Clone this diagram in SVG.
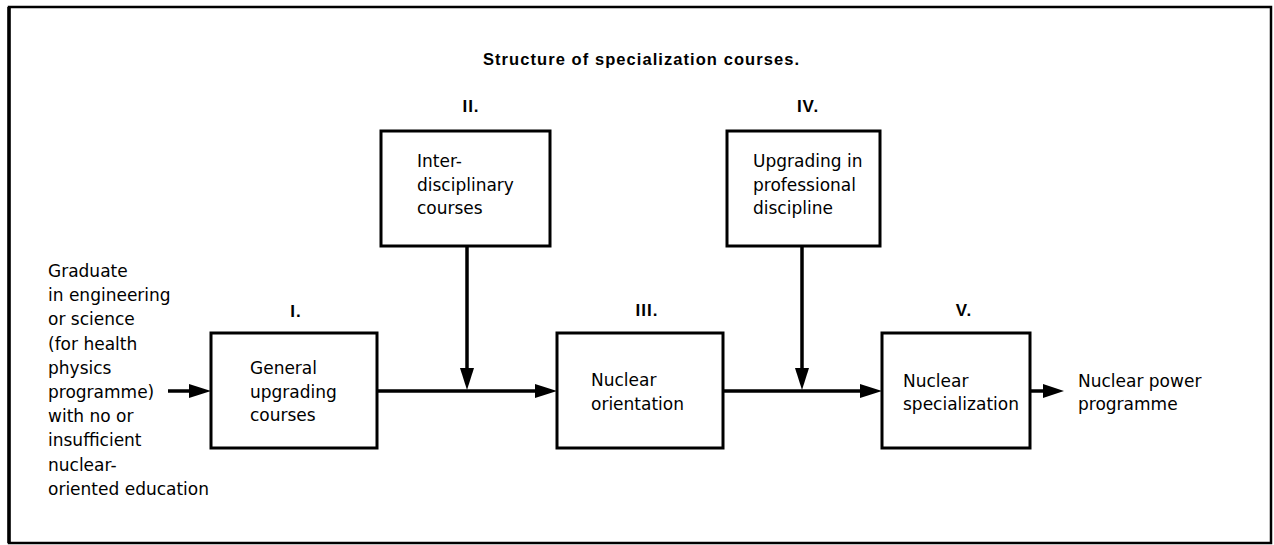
<svg xmlns="http://www.w3.org/2000/svg" width="1274" height="545" viewBox="0 0 1274 545">
<style>
.frame{fill:none;stroke:#000;stroke-width:2.5}
.box{fill:#fff;stroke:#000;stroke-width:3}
.t{font-family:"DejaVu Sans",Verdana,sans-serif;font-size:17px;fill:#000}
.title{font-family:"Liberation Sans",Arial,sans-serif;font-weight:bold;font-size:16.5px;fill:#000}
.num{font-family:"Liberation Sans",Arial,sans-serif;font-weight:bold;font-size:17px;fill:#000;text-anchor:middle;letter-spacing:1px}
.ln{fill:none;stroke:#000;stroke-width:3.5}
.ah{fill:#000;stroke:none}
</style>
<rect class="frame" x="9" y="7" width="1262" height="536"/>
<line x1="9" y1="7" x2="9" y2="543" stroke="#000" stroke-width="3.5"/>
<text class="title" x="641" y="65" text-anchor="middle" textLength="316">Structure of specialization courses.</text>

<g id="input-label">
<text class="t" x="48" y="277">Graduate</text>
<text class="t" x="48" y="301.2">in engineering</text>
<text class="t" x="48" y="325.4">or science</text>
<text class="t" x="48" y="349.6">(for health</text>
<text class="t" x="48" y="373.8">physics</text>
<text class="t" x="48" y="398">programme)</text>
<text class="t" x="48" y="422.2">with no or</text>
<text class="t" x="48" y="446.4">insufficient</text>
<text class="t" x="48" y="470.6">nuclear-</text>
<text class="t" x="48" y="494.8">oriented education</text>
</g>

<g id="node-I">
<text class="num" x="296" y="317">I.</text>
<rect class="box" x="211" y="333" width="166" height="115"/>
<text class="t" x="250" y="374">General</text>
<text class="t" x="250" y="398">upgrading</text>
<text class="t" x="250" y="421">courses</text>
</g>

<g id="node-II">
<text class="num" x="471" y="112">II.</text>
<rect class="box" x="381" y="131" width="169" height="115"/>
<text class="t" x="417" y="167">Inter-</text>
<text class="t" x="417" y="191">disciplinary</text>
<text class="t" x="417" y="214">courses</text>
</g>

<g id="node-III">
<text class="num" x="647" y="316">III.</text>
<rect class="box" x="557" y="333" width="166" height="115"/>
<text class="t" x="591" y="386">Nuclear</text>
<text class="t" x="591" y="410">orientation</text>
</g>

<g id="node-IV">
<text class="num" x="808" y="112">IV.</text>
<rect class="box" x="727" y="131" width="153" height="115"/>
<text class="t" x="753" y="167">Upgrading in</text>
<text class="t" x="753" y="191">professional</text>
<text class="t" x="753" y="214">discipline</text>
</g>

<g id="node-V">
<text class="num" x="964" y="316">V.</text>
<rect class="box" x="882" y="333" width="148" height="115"/>
<text class="t" x="903" y="387">Nuclear</text>
<text class="t" x="903" y="410">specialization</text>
</g>

<g id="output-label">
<text class="t" x="1078" y="387">Nuclear power</text>
<text class="t" x="1078" y="410">programme</text>
</g>

<g id="connectors">
<line class="ln" x1="168" y1="391" x2="192" y2="391"/>
<polygon class="ah" points="189,384 211,391 189,398"/>
<line class="ln" x1="377" y1="391" x2="538" y2="391"/>
<polygon class="ah" points="535,384 557,391 535,398"/>
<line class="ln" x1="467" y1="246" x2="467" y2="372"/>
<polygon class="ah" points="460,368 467,390 474,368"/>
<line class="ln" x1="723" y1="391" x2="863" y2="391"/>
<polygon class="ah" points="860,384 882,391 860,398"/>
<line class="ln" x1="802" y1="246" x2="802" y2="372"/>
<polygon class="ah" points="795,368 802,390 809,368"/>
<line class="ln" x1="1030" y1="391" x2="1046" y2="391"/>
<polygon class="ah" points="1043,384 1064,391 1043,398"/>
</g>
</svg>
